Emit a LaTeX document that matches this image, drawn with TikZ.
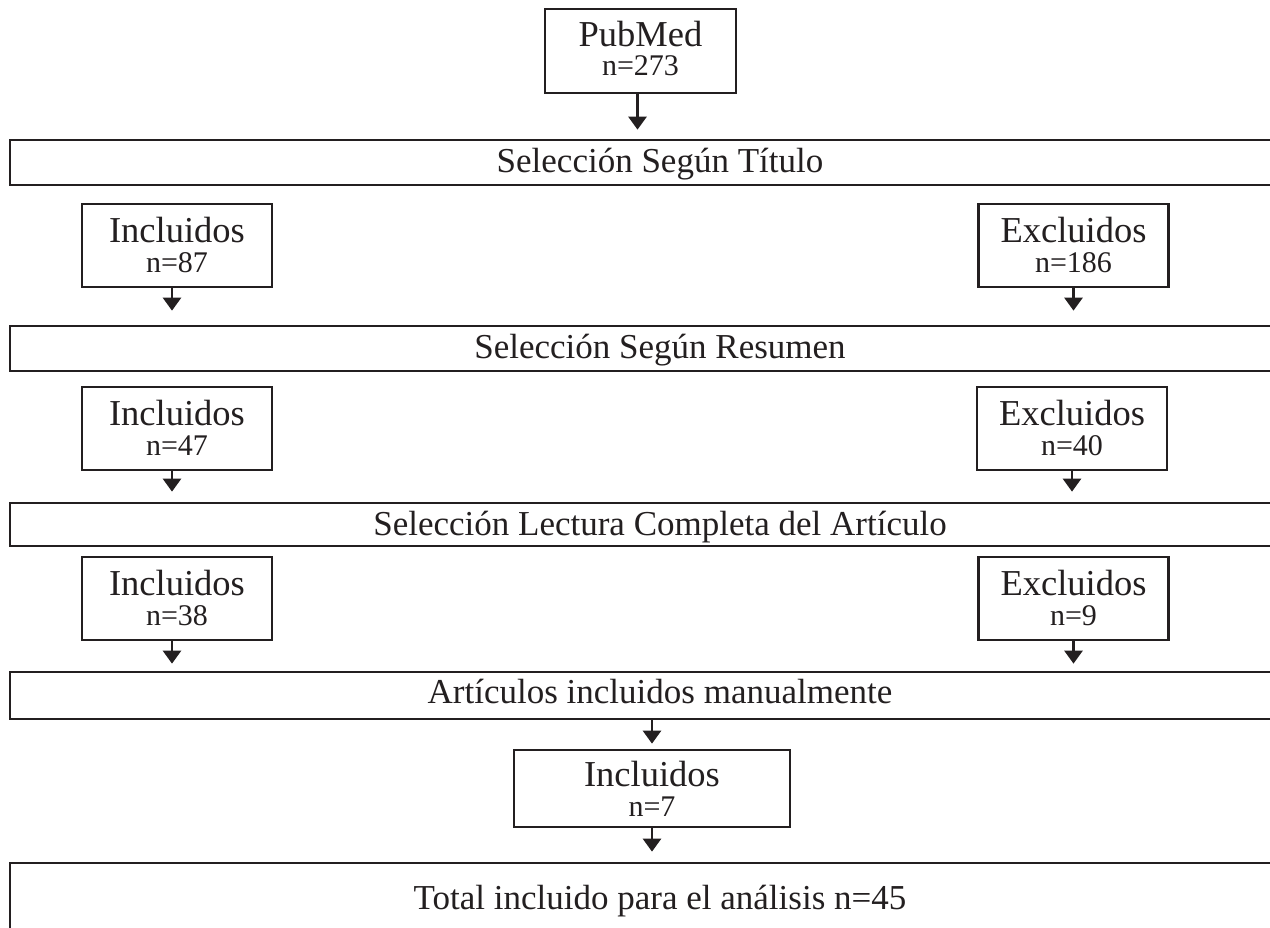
\documentclass[tikz,border=0pt]{standalone}
\usepackage{fontspec}
\setmainfont{Liberation Serif}
\usetikzlibrary{arrows.meta}
\definecolor{ink}{HTML}{231F20}
\begin{document}
\begin{tikzpicture}[x=1pt,y=-1pt,
  every node/.style={text=ink},
  stage/.style={draw=ink, line width=2.7pt, inner sep=0pt, minimum width=1300pt,
    font=\fontsize{35}{40}\selectfont},
  smallbox/.style={draw=ink, line width=2.7pt, inner sep=0pt, minimum width=190pt, minimum height=83pt},
  hdr/.style={inner sep=0pt, anchor=base, font=\fontsize{36.5}{40}\selectfont},
  num/.style={inner sep=0pt, anchor=base, font=\fontsize{30}{34}\selectfont},
  flow/.style={draw=ink, line width=2.7pt, -{Triangle[length=13pt,width=18pt]}}
]
\useasboundingbox (0,0) rectangle (1270,928);
\clip (0,0) rectangle (1270,928);
\fill[white] (0,0) rectangle (1270,928);

% top source box
\node[smallbox, minimum width=191pt, minimum height=84pt] (pub) at (640.5,51) {};
\node[hdr] (pubA) at ([yshift=-39pt]pub.north) {PubMed};
\node[num] (pubB) at ([yshift=-68pt]pub.north) {n=273};

% stage bars
\node[stage, text height=33pt, text depth=12pt] (bar1) at (660,162.5) {Selección Según Título};
\node[stage, text height=33pt, text depth=12pt] (bar2) at (660,348.5) {Selección Según Resumen};
\node[stage, text height=32pt, text depth=11pt] (bar3) at (660,524.5) {Selección Lectura Completa del Artículo};
\node[stage, text height=31pt, text depth=16pt] (bar4) at (660,695.5) {Artículos incluidos manualmente};
\node[stage, text height=46pt, text depth=60pt] (bar5) at (660,916) {Total incluido para el análisis n=45};

% level 1
\node[smallbox] (inc1) at (177,245.5) {};
\node[hdr] (inc1a) at ([yshift=-40pt]inc1.north) {Incluidos};
\node[num] (inc1b) at ([yshift=-70pt]inc1.north) {n=87};
\node[smallbox] (exc1) at (1073.5,245.5) {};
\node[hdr] (exc1a) at ([yshift=-40pt]exc1.north) {Excluidos};
\node[num] (exc1b) at ([yshift=-70pt]exc1.north) {n=186};

% level 2
\node[smallbox] (inc2) at (177,428.5) {};
\node[hdr] (inc2a) at ([yshift=-40pt]inc2.north) {Incluidos};
\node[num] (inc2b) at ([yshift=-70pt]inc2.north) {n=47};
\node[smallbox] (exc2) at (1072,428.5) {};
\node[hdr] (exc2a) at ([yshift=-40pt]exc2.north) {Excluidos};
\node[num] (exc2b) at ([yshift=-70pt]exc2.north) {n=40};

% level 3
\node[smallbox] (inc3) at (177,598.5) {};
\node[hdr] (inc3a) at ([yshift=-40pt]inc3.north) {Incluidos};
\node[num] (inc3b) at ([yshift=-70pt]inc3.north) {n=38};
\node[smallbox] (exc3) at (1073.5,598.5) {};
\node[hdr] (exc3a) at ([yshift=-40pt]exc3.north) {Excluidos};
\node[num] (exc3b) at ([yshift=-70pt]exc3.north) {n=9};

% manual
\node[smallbox, minimum width=276pt, minimum height=77pt] (inc4) at (652,788.5) {};
\node[hdr] (inc4a) at ([yshift=-38pt]inc4.north) {Incluidos};
\node[num] (inc4b) at ([yshift=-68pt]inc4.north) {n=7};

% connectors
\draw[flow, shorten >=9pt] ([xshift=-3pt]pub.south) -- ([xshift=-3pt]pub.south |- bar1.north);
\draw[flow, shorten >=14pt] ([xshift=-5pt]inc1.south) -- ([xshift=-5pt]inc1.south |- bar2.north);
\draw[flow, shorten >=14pt] (exc1.south) -- (exc1.south |- bar2.north);
\draw[flow, shorten >=10pt] ([xshift=-5pt]inc2.south) -- ([xshift=-5pt]inc2.south |- bar3.north);
\draw[flow, shorten >=10pt] (exc2.south) -- (exc2.south |- bar3.north);
\draw[flow, shorten >=7pt] ([xshift=-5pt]inc3.south) -- ([xshift=-5pt]inc3.south |- bar4.north);
\draw[flow, shorten >=7pt] (exc3.south) -- (exc3.south |- bar4.north);
\draw[flow, shorten >=5pt] (inc4.north |- bar4.south) -- (inc4.north);
\draw[flow, shorten >=10pt] (inc4.south) -- (inc4.south |- bar5.north);
\end{tikzpicture}
\end{document}
